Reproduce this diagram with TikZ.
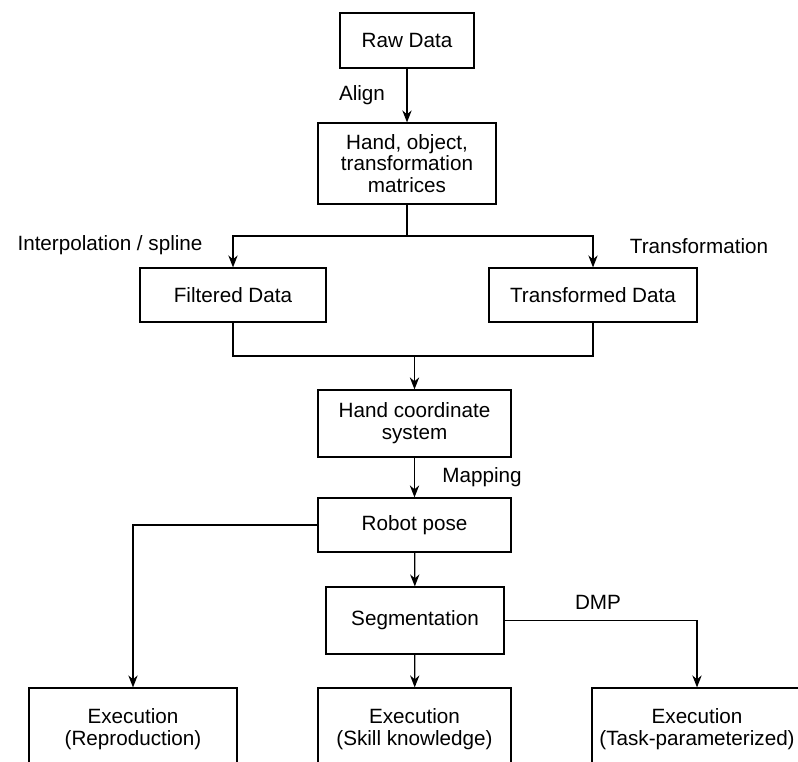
\documentclass[tikz,border=0pt]{standalone}
\usepackage{fontspec}
\setmainfont{Liberation Sans}
\usetikzlibrary{arrows.meta}
\begin{document}
\begin{tikzpicture}[x=0.75pt,y=-0.75pt,
    font=\fontsize{15.5}{16.3}\selectfont,
    boite/.style={draw,line width=0.9pt,align=center,inner sep=0pt},
    fleche/.style={line width=0.9pt,-{Stealth[length=9pt,width=7pt]}},
    trait/.style={line width=0.9pt}]
    \clip (0,0) rectangle (798,762);
    \node[boite,minimum width=134*0.75pt,minimum height=55*0.75pt] (raw) at (407,40.5) {Raw Data};
    \node[boite,minimum width=178*0.75pt,minimum height=81*0.75pt] (mat) at (407,163.5) {Hand, object,\\transformation\\matrices};
    \node[boite,minimum width=186*0.75pt,minimum height=54*0.75pt] (filt) at (233,295) {Filtered Data};
    \node[boite,minimum width=208*0.75pt,minimum height=54*0.75pt] (trans) at (593,295) {Transformed Data};
    \node[boite,minimum width=193*0.75pt,minimum height=67*0.75pt] (hcs) at (414.5,423.5) {Hand coordinate\\system};
    \node[boite,minimum width=193*0.75pt,minimum height=54*0.75pt] (pose) at (414.5,525) {Robot pose};
    \node[boite,minimum width=178*0.75pt,minimum height=67*0.75pt] (seg) at (415,620.5) {Segmentation};
    \node[boite,minimum width=208*0.75pt,minimum height=83*0.75pt] (exrep) at (133,729.5) {Execution\\(Reproduction)};
    \node[boite,minimum width=193*0.75pt,minimum height=83*0.75pt] (exskill) at (414.5,729.5) {Execution\\(Skill knowledge)};
    \node[boite,minimum width=210*0.75pt,minimum height=83*0.75pt] (extask) at (697,729.5) {Execution\\(Task-parameterized)};
    \coordinate (split) at (407,236);
    \coordinate (merge) at (414.5,356);
    \draw[fleche] (raw) -- (mat);
    \draw[trait] (mat) -- (split);
    \draw[fleche] (split) -| (filt);
    \draw[fleche] (split) -| (trans);
    \draw[trait] (filt.south) |- (merge) -| (trans.south);% retour vers le centre
    \draw[fleche] (merge) -- (hcs);
    \draw[fleche] (hcs) -- (pose);
    \draw[fleche] (pose.west) -| (exrep.north);
    \draw[fleche] (pose) -- (seg);
    \draw[fleche] (seg) -- (exskill);
    \draw[fleche] (seg.east) -| (extask.north);
    \node (lalign) at (362,95) {Align};
    \node (linterp) at (110,245) {Interpolation / spline};
    \node (ltrans) at (699,246) {Transformation};
    \node (lmap) at (482,477) {Mapping};
    \node (ldmp) at (598,602) {DMP};
\end{tikzpicture}
\end{document}
